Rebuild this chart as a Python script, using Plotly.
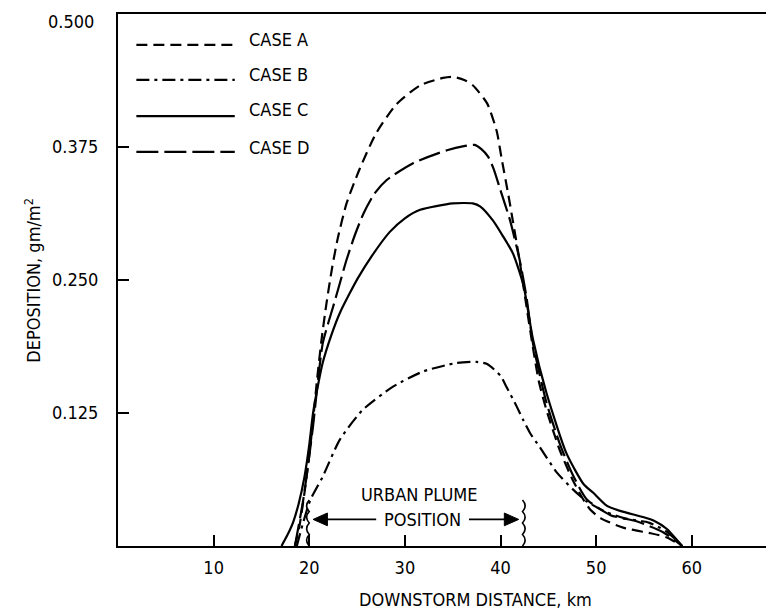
import plotly.graph_objects as go

# ---- data ----
case_a_x = [18.5, 19.0, 19.5, 20.0, 20.4, 20.8, 21.3, 21.8, 22.4, 23.0, 23.9, 25.3, 27.0, 29.1, 31.6, 34.0, 35.0, 36.2, 37.1, 38.6, 39.6, 40.1, 40.8, 41.3, 42.0, 42.6, 43.4, 44.0, 44.8, 46.2, 47.5, 48.5, 49.4, 50.5, 52.9, 55.7, 57.4, 59.0]
case_a_y = [0.0, 0.02, 0.05, 0.085, 0.118, 0.155, 0.195, 0.228, 0.262, 0.29, 0.322, 0.355, 0.388, 0.415, 0.433, 0.440, 0.441, 0.438, 0.433, 0.416, 0.390, 0.365, 0.331, 0.305, 0.268, 0.232, 0.186, 0.155, 0.128, 0.090, 0.063, 0.046, 0.034, 0.026, 0.017, 0.012, 0.008, 0.0]

case_b_x = [18.7, 19.3, 20.1, 21.4, 23.2, 25.6, 28.8, 31.9, 35.4, 37.5, 38.6, 40.0, 40.6, 41.7, 42.4, 43.1, 44.1, 45.9, 47.6, 49.0, 51.0, 53.0, 55.5, 57.3, 59.0]
case_b_y = [0.0, 0.02, 0.043, 0.065, 0.100, 0.128, 0.150, 0.164, 0.172, 0.173, 0.171, 0.160, 0.150, 0.131, 0.118, 0.106, 0.093, 0.069, 0.053, 0.042, 0.032, 0.026, 0.022, 0.014, 0.0]

case_c_x = [17.1, 17.7, 18.3, 18.9, 19.5, 20.0, 20.4, 21.0, 21.4, 22.3, 23.2, 24.2, 25.1, 26.5, 28.4, 30.0, 31.6, 35.0, 37.1, 37.9, 39.2, 40.2, 41.3, 42.4, 43.4, 44.8, 46.9, 48.7, 49.7, 51.1, 52.5, 55.0, 56.0, 57.4, 59.0]
case_c_y = [0.0, 0.010, 0.022, 0.040, 0.065, 0.095, 0.125, 0.155, 0.172, 0.198, 0.219, 0.237, 0.252, 0.272, 0.295, 0.308, 0.316, 0.322, 0.322, 0.319, 0.306, 0.292, 0.275, 0.245, 0.194, 0.144, 0.087, 0.058, 0.050, 0.038, 0.033, 0.027, 0.024, 0.016, 0.0]

case_d_x = [18.5, 19.4, 20.4, 20.9, 21.4, 22.0, 22.5, 23.2, 23.9, 24.8, 25.7, 26.8, 28.1, 30.9, 34.4, 36.3, 37.3, 38.0, 38.7, 39.3, 39.9, 41.0, 42.0, 42.7, 43.4, 44.8, 46.2, 47.5, 49.0, 51.5, 54.3, 57.0, 59.0]
case_d_y = [0.0, 0.045, 0.113, 0.155, 0.190, 0.210, 0.225, 0.247, 0.269, 0.293, 0.313, 0.331, 0.344, 0.360, 0.372, 0.376, 0.377, 0.373, 0.366, 0.354, 0.337, 0.306, 0.269, 0.235, 0.190, 0.135, 0.096, 0.068, 0.044, 0.029, 0.023, 0.013, 0.0]

case_names = ["CASE A", "CASE B", "CASE C", "CASE D"]
x_ticks = [10, 20, 30, 40, 50, 60]
y_ticks = [0.125, 0.250, 0.375, 0.500]
y_tick_text = ["0.125", "0.250", "0.375", "0.500"]
plume_bounds = [20.0, 42.3]

FONT = "DejaVu Sans Condensed, Liberation Sans Narrow, sans-serif"
dashes = ["11px,6px", "13px,5px,3px,5px", "solid", "22px,6px"]
LW = 2.2

fig = go.Figure()
series = [(case_a_x, case_a_y), (case_b_x, case_b_y), (case_c_x, case_c_y), (case_d_x, case_d_y)]
for (xs, ys), name, d in zip(series, case_names, dashes):
    fig.add_trace(go.Scatter(x=xs, y=ys, mode="lines", name=name,
                             line=dict(color="black", width=LW, dash=d, shape="spline", smoothing=0.6),
                             showlegend=False, hoverinfo="skip"))

shapes = []
annotations = []
# legend keys drawn by hand (long sample lines, like the reference)
leg_line_y = [0.942, 0.876, 0.808, 0.741]
leg_text_y = [0.953, 0.887, 0.821, 0.750]
for name, d, ly, ty in zip(case_names, dashes, leg_line_y, leg_text_y):
    shapes.append(dict(type="line", xref="paper", yref="paper", x0=0.028, x1=0.178, y0=ly, y1=ly,
                       line=dict(color="black", width=LW, dash=d)))
    annotations.append(dict(xref="paper", yref="paper", x=0.196, y=ty, text=name, showarrow=False,
                            xanchor="left", yanchor="middle", font=dict(family=FONT, size=18, color="black")))

# wavy markers for urban plume position
h = 0.0108
w = 0.55
for bx, sgn in zip(plume_bounds, [-1, 1]):
    path = f"M {bx},0"
    for i in range(4):
        y0 = i * h
        path += f" Q {bx + sgn * w},{y0 + h / 2} {bx},{y0 + h}"
    shapes.append(dict(type="path", xref="x", yref="y", path=path, line=dict(color="black", width=1.6)))

# arrows of the urban plume position
arrow_y = 0.025
shapes.append(dict(type="line", xref="x", yref="y", x0=plume_bounds[0] + 1.4, x1=27.0,
                   y0=arrow_y, y1=arrow_y, line=dict(color="black", width=1.6)))
shapes.append(dict(type="line", xref="x", yref="y", x0=36.7, x1=plume_bounds[1] - 1.4,
                   y0=arrow_y, y1=arrow_y, line=dict(color="black", width=1.6)))
for tip, sgn in zip(plume_bounds, [1, -1]):
    tx = tip + sgn * 0.4
    shapes.append(dict(type="path", xref="x", yref="y",
                       path=f"M {tx},{arrow_y} L {tx + sgn * 1.5},{arrow_y + 0.006} L {tx + sgn * 1.5},{arrow_y - 0.006} Z",
                       fillcolor="black", line=dict(color="black", width=1)))

annotations += [
    dict(x=31.5, y=0.048, xref="x", yref="y", text="URBAN PLUME", showarrow=False,
         font=dict(family=FONT, size=18, color="black")),
    dict(x=31.85, y=arrow_y, xref="x", yref="y", text="POSITION", showarrow=False,
         font=dict(family=FONT, size=18, color="black")),
    dict(xref="paper", yref="paper", x=0.545, y=0, yshift=-53, text="DOWNSTORM DISTANCE, km",
         showarrow=False, xanchor="center", yanchor="middle", font=dict(family=FONT, size=18, color="black")),
    dict(xref="paper", yref="paper", x=-0.130, y=0.5, text="DEPOSITION, gm/m<sup>2</sup>", textangle=-90,
         showarrow=False, xanchor="center", yanchor="middle", font=dict(family=FONT, size=18, color="black")),
    # top tick label sits just below the frame in the reference
    dict(xref="paper", yref="y", x=-0.033, y=y_ticks[-1], yshift=-7, text=y_tick_text[-1], showarrow=False,
         xanchor="right", yanchor="middle", font=dict(family=FONT, size=18, color="black")),
]

# page body adds an 8px margin; the figure is sized so the plot lands where the reference has it
fig.update_layout(
    width=766, height=603,
    margin=dict(l=110, r=0, t=6, b=65),
    paper_bgcolor="white", plot_bgcolor="white",
    font=dict(family=FONT, size=18, color="black"),
    shapes=shapes, annotations=annotations,
    xaxis=dict(range=[0, 68.6], tickvals=x_ticks, ticks="inside", ticklen=11, tickwidth=1.5,
               tickcolor="black", showline=True, linecolor="black", linewidth=2.2, mirror=True,
               showgrid=False, zeroline=False, ticklabelstandoff=4,
               tickfont=dict(family=FONT, size=18, color="black")),
    yaxis=dict(range=[0, 0.5], tickvals=y_ticks[:-1], ticktext=y_tick_text[:-1], ticks="inside", ticklen=11,
               tickwidth=1.5, tickcolor="black", showline=True, linecolor="black", linewidth=2.2,
               mirror=False, showgrid=False, zeroline=False, ticklabelstandoff=14,
               tickfont=dict(family=FONT, size=18, color="black")),
)

fig.write_html("out.html")
